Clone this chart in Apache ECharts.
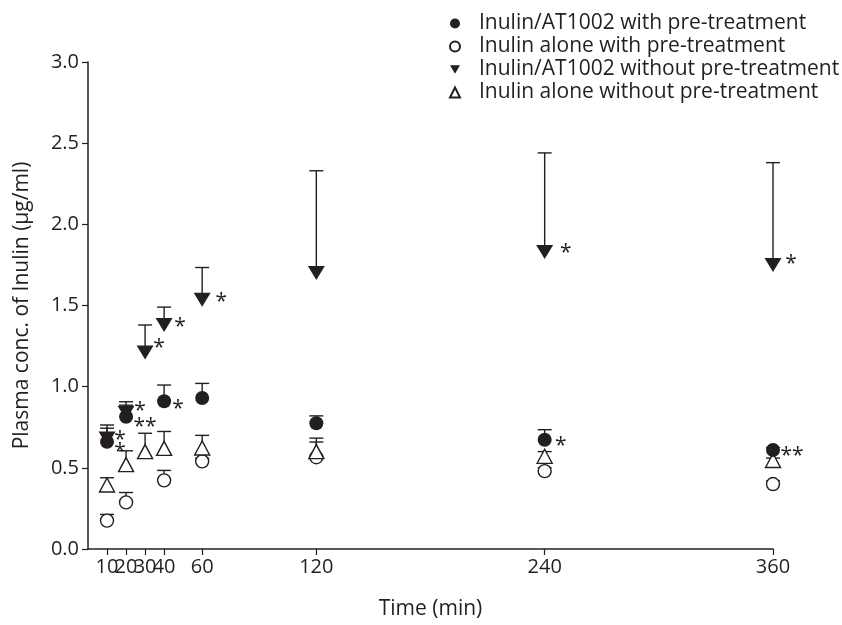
<!DOCTYPE html>
<html>
<head>
<meta charset="utf-8">
<script src="https://cdn.jsdelivr.net/npm/echarts@6/dist/echarts.min.js"></script>
<style>
html,body{margin:0;padding:0;background:#fff;}
#chart{width:842px;height:625px;}
</style>
</head>
<body>
<div id="chart"></div>
<script>
// ---------- data ----------
const timesAll = [10, 20, 30, 40, 60, 120, 240, 360];
const timesPre = [10, 20, 40, 60, 120, 240, 360];
const xTicks = [10, 20, 30, 40, 60, 120, 240, 360];

const seriesNames = [
  'Inulin/AT1002 with pre-treatment',
  'Inulin alone with pre-treatment',
  'Inulin/AT1002 without pre-treatment',
  'Inulin alone without pre-treatment'
];

// Inulin/AT1002 with pre-treatment (filled circle)
const atPreMean  = [0.66, 0.815, 0.91, 0.93, 0.775, 0.673, 0.61];
const atPreUpper = [0.744, 0.886, 1.01, 1.02, 0.82, 0.735, 0.625];
const atPreSig   = ['*', '**', '*', '', '', '*', '**'];

// Inulin alone with pre-treatment (open circle)
const alPreMean  = [0.175, 0.287, 0.423, 0.54, 0.565, 0.48, 0.40];
const alPreUpper = [0.213, 0.348, 0.484, 0.56, 0.659, 0.50, 0.42];

// Inulin/AT1002 without pre-treatment (filled down-triangle)
const atNoMean  = [0.68, 0.84, 1.21, 1.38, 1.536, 1.70, 1.83, 1.75];
const atNoUpper = [0.764, 0.907, 1.38, 1.49, 1.734, 2.33, 2.44, 2.38];
const atNoSig   = ['*', '*', '*', '*', '*', '', '*', '*'];

// Inulin alone without pre-treatment (open up-triangle)
const alNoMean  = [0.394, 0.52, 0.60, 0.62, 0.622, 0.60, 0.571, 0.545];
const alNoUpper = [0.439, 0.605, 0.713, 0.724, 0.70, 0.683, 0.60, 0.56];

// ---------- styling ----------
const INK = '#231f20';
const FONT = '"Open Sans", "Noto Sans", sans-serif';
const downTri = 'path://M0,0 L20,0 L10,17 Z';

// visual offsets of significance marks relative to their point (px)
const sigOffsetAtPre = [[13, 10], [19, 10], [14, 8], [0, 0], [0, 0], [16, 6], [19, 6]];
const sigOffsetAtNo  = [[13, 1], [14, -2], [14, -5], [16, 2], [19, 2], [0, 0], [21, 1], [18, -1]];

// an invisible spacer label at the axis origin keeps the crowded first tick labels all visible
const xLabelValues = [0].concat(xTicks);

function pointData(times, mean, sig, offs) {
  return times.map((t, i) => {
    const d = { value: [t, mean[i]] };
    if (sig && sig[i]) {
      d.label = {
        show: true, formatter: sig[i], position: 'inside',
        offset: offs[i], color: INK, fontSize: 21, fontFamily: FONT
      };
    }
    return d;
  });
}
function errData(times, mean, upper) {
  return times.map((t, i) => [t, mean[i], upper[i]]);
}
function errSeries(name, data) {
  return {
    type: 'custom', name: name, data: data, z: 1, silent: true,
    encode: { x: 0, y: [1, 2] },
    renderItem: function (params, api) {
      const p0 = api.coord([api.value(0), api.value(1)]);
      const p1 = api.coord([api.value(0), api.value(2)]);
      const hw = 7;
      return {
        type: 'group',
        children: [
          { type: 'line', shape: { x1: p0[0], y1: p0[1], x2: p1[0], y2: p1[1] },
            style: { stroke: INK, lineWidth: 1.4 } },
          { type: 'line', shape: { x1: p1[0] - hw, y1: p1[1], x2: p1[0] + hw, y2: p1[1] },
            style: { stroke: INK, lineWidth: 1.4 } }
        ]
      };
    }
  };
}

const chart = echarts.init(document.getElementById('chart'), null, { renderer: 'canvas' });

const option = {
  animation: false,
  backgroundColor: '#fff',
  textStyle: { fontFamily: FONT, color: INK },
  grid: { left: 88, right: 69, top: 62, bottom: 74 },
  legend: {
    orient: 'vertical', left: 449, top: 13, padding: 0,
    itemWidth: 10, itemHeight: 10, itemGap: 2,
    textStyle: { fontSize: 21, fontFamily: FONT, color: INK, lineHeight: 21, padding: [0, 0, 0, 14] },
    data: [
      { name: seriesNames[0], icon: 'circle' },
      { name: seriesNames[1], icon: 'circle' },
      { name: seriesNames[2], icon: downTri },
      { name: seriesNames[3], icon: 'triangle' }
    ],
    selectedMode: false
  },
  xAxis: {
    type: 'value', min: 0, max: 360,
    name: 'Time (min)', nameLocation: 'middle', nameGap: 50,
    nameTextStyle: { fontSize: 21, color: INK, fontFamily: FONT },
    axisLine: { show: true, lineStyle: { color: INK, width: 1.5 } },
    axisTick: { show: true, length: 6, customValues: xTicks, lineStyle: { color: INK, width: 1.2 } },
    axisLabel: { customValues: xLabelValues, fontSize: 20, color: INK, fontFamily: FONT, margin: 8,
      hideOverlap: false,
      formatter: v => (v === 0 ? ' ' : String(v)) },
    splitLine: { show: false }
  },
  yAxis: {
    type: 'value', min: 0, max: 3, interval: 0.5,
    name: 'Plasma conc. of Inulin (\u00b5g/ml)', nameLocation: 'middle', nameGap: 55, nameRotate: 90,
    nameTextStyle: { fontSize: 21, color: INK, fontFamily: FONT },
    axisLine: { show: true, lineStyle: { color: INK, width: 1.5 } },
    axisTick: { show: true, length: 6, lineStyle: { color: INK, width: 1.2 } },
    axisLabel: { fontSize: 20, color: INK, fontFamily: FONT, margin: 9,
      formatter: v => v.toFixed(1) },
    splitLine: { show: false }
  },
  series: [
    errSeries('err1', errData(timesPre, alPreMean, alPreUpper)),
    errSeries('err2', errData(timesAll, alNoMean, alNoUpper)),
    errSeries('err3', errData(timesAll, atNoMean, atNoUpper)),
    errSeries('err4', errData(timesPre, atPreMean, atPreUpper)),
    {
      type: 'scatter', name: seriesNames[1], z: 3,
      symbol: 'circle', symbolSize: 13,
      itemStyle: { color: '#fff', borderColor: INK, borderWidth: 1.4, opacity: 1 },
      data: pointData(timesPre, alPreMean)
    },
    {
      type: 'scatter', name: seriesNames[3], z: 4,
      symbol: 'triangle', symbolSize: [15, 14],
      itemStyle: { color: '#fff', borderColor: INK, borderWidth: 1.4, opacity: 1 },
      data: pointData(timesAll, alNoMean)
    },
    {
      type: 'scatter', name: seriesNames[2], z: 5,
      symbol: downTri, symbolSize: [17, 14],
      itemStyle: { color: INK, opacity: 1 },
      data: pointData(timesAll, atNoMean, atNoSig, sigOffsetAtNo)
    },
    {
      type: 'scatter', name: seriesNames[0], z: 6,
      symbol: 'circle', symbolSize: 14,
      itemStyle: { color: INK, opacity: 1 },
      data: pointData(timesPre, atPreMean, atPreSig, sigOffsetAtPre)
    }
  ]
};
chart.setOption(option);
</script>
</body>
</html>
